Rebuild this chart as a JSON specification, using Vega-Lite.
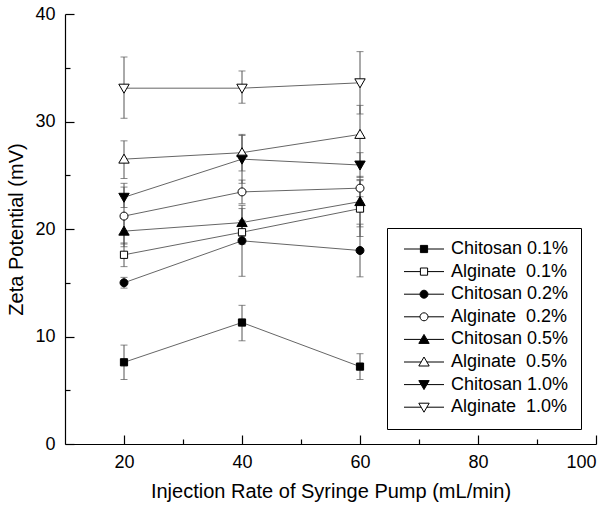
{
  "$schema": "https://vega.github.io/schema/vega-lite/v6.json",
  "width": 531,
  "height": 430,
  "autosize": {"type": "none"},
  "padding": {"left": 65, "top": 14, "right": 20, "bottom": 68},
  "background": "white",
  "config": {
    "view": {"stroke": null},
    "font": "Liberation Sans",
    "axis": {
      "domainColor": "black", "domainWidth": 1.2, "tickColor": "black", "tickWidth": 1.2,
      "labelColor": "black", "titleColor": "black", "labelFont": "Liberation Sans", "labelFontSize": 18,
      "titleFont": "Liberation Sans", "titleFontSize": 20, "titleFontWeight": "normal", "grid": false
    },
    "legend": {
      "title": null, "orient": "bottom-right", "offset": 15, "labelFont": "Liberation Sans", "labelFontSize": 18, "labelColor": "black",
      "symbolSize": 64, "labelOffset": 34, "rowPadding": 4.6, "padding": 12, "strokeColor": "black", "fillColor": "white", "labelLimit": 300,
      "symbolStrokeColor": "black", "symbolStrokeWidth": 1
    }
  },
  "data": {"values": [
    {"rate": 20, "series": "Chitosan 0.1%", "zeta": 7.6, "lo": 6.0, "hi": 9.2},
    {"rate": 40, "series": "Chitosan 0.1%", "zeta": 11.3, "lo": 9.6, "hi": 12.9},
    {"rate": 60, "series": "Chitosan 0.1%", "zeta": 7.2, "lo": 6.0, "hi": 8.4},
    {"rate": 20, "series": "Alginate\u00a0 0.1%", "zeta": 17.6, "lo": 16.5, "hi": 18.7},
    {"rate": 40, "series": "Alginate\u00a0 0.1%", "zeta": 19.7, "lo": 18.6, "hi": 20.8},
    {"rate": 60, "series": "Alginate\u00a0 0.1%", "zeta": 21.9, "lo": 19.3, "hi": 24.5},
    {"rate": 20, "series": "Chitosan 0.2%", "zeta": 15.0, "lo": 14.5, "hi": 15.5},
    {"rate": 40, "series": "Chitosan 0.2%", "zeta": 18.9, "lo": 15.6, "hi": 22.2},
    {"rate": 60, "series": "Chitosan 0.2%", "zeta": 18.0, "lo": 15.55, "hi": 20.45},
    {"rate": 20, "series": "Alginate\u00a0 0.2%", "zeta": 21.2, "lo": 18.35, "hi": 24.25},
    {"rate": 40, "series": "Alginate\u00a0 0.2%", "zeta": 23.45, "lo": 22.35, "hi": 24.55},
    {"rate": 60, "series": "Alginate\u00a0 0.2%", "zeta": 23.8, "lo": 23.0, "hi": 24.6},
    {"rate": 20, "series": "Chitosan 0.5%", "zeta": 19.8, "lo": 18.6, "hi": 21.0},
    {"rate": 40, "series": "Chitosan 0.5%", "zeta": 20.6, "lo": 19.3, "hi": 21.9},
    {"rate": 60, "series": "Chitosan 0.5%", "zeta": 22.55, "lo": 20.2, "hi": 24.9},
    {"rate": 20, "series": "Alginate\u00a0 0.5%", "zeta": 26.5, "lo": 24.7, "hi": 28.2},
    {"rate": 40, "series": "Alginate\u00a0 0.5%", "zeta": 27.1, "lo": 25.4, "hi": 28.8},
    {"rate": 60, "series": "Alginate\u00a0 0.5%", "zeta": 28.8, "lo": 26.2, "hi": 31.5},
    {"rate": 20, "series": "Chitosan 1.0%", "zeta": 22.95, "lo": 22.0, "hi": 23.9},
    {"rate": 40, "series": "Chitosan 1.0%", "zeta": 26.5, "lo": 24.25, "hi": 28.7},
    {"rate": 60, "series": "Chitosan 1.0%", "zeta": 25.95, "lo": 24.8, "hi": 27.1},
    {"rate": 20, "series": "Alginate\u00a0 1.0%", "zeta": 33.1, "lo": 30.3, "hi": 36.0},
    {"rate": 40, "series": "Alginate\u00a0 1.0%", "zeta": 33.1, "lo": 31.7, "hi": 34.7},
    {"rate": 60, "series": "Alginate\u00a0 1.0%", "zeta": 33.6, "lo": 30.7, "hi": 36.5}
  ]},
  "layer": [
    {
      "mark": {"type": "errorbar", "ticks": {"size": 7, "color": "#555555"}, "color": "#555555", "thickness": 1},
      "encoding": {
        "x": {"field": "rate", "type": "quantitative", "scale": {"domain": [10, 100]}, "axis": null},
        "y": {"field": "lo", "type": "quantitative", "scale": {"domain": [0, 40]}, "axis": null},
        "y2": {"field": "hi"}
      }
    },
    {
      "mark": {"type": "line", "color": "#666666", "strokeWidth": 1},
      "encoding": {
        "x": {"field": "rate", "type": "quantitative", "axis": null},
        "y": {"field": "zeta", "type": "quantitative", "axis": null},
        "detail": {"field": "series"}
      }
    },
    {
      "mark": {"type": "point", "filled": true, "size": 64, "stroke": "black", "strokeWidth": 1, "opacity": 1},
      "encoding": {
        "x": {"field": "rate", "type": "quantitative", "title": "Injection Rate of Syringe Pump (mL/min)",
              "axis": {"values": [20, 40, 60, 80, 100], "tickSize": -9, "labelPadding": 18, "titlePadding": 10, "orient": "bottom"}},
        "y": {"field": "zeta", "type": "quantitative", "title": "Zeta Potential (mV)",
              "axis": {"values": [0, 10, 20, 30, 40], "tickSize": -9, "labelPadding": 19, "titlePadding": 8, "orient": "left"}},
        "shape": {"field": "series", "type": "nominal", "legend": null,
          "scale": {"domain": ["Chitosan 0.1%", "Alginate\u00a0 0.1%", "Chitosan 0.2%", "Alginate\u00a0 0.2%", "Chitosan 0.5%", "Alginate\u00a0 0.5%", "Chitosan 1.0%", "Alginate\u00a0 1.0%"],
                    "range": ["M-0.9,-0.9H0.9V0.9H-0.9Z", "M-0.9,-0.9H0.9V0.9H-0.9Z", "M1,0A1,1,0,1,1,-1,0A1,1,0,1,1,1,0Z", "M1,0A1,1,0,1,1,-1,0A1,1,0,1,1,1,0Z", "M0,-1.25L1.3,1L-1.3,1Z", "M0,-1.25L1.3,1L-1.3,1Z", "M0,1.25L1.3,-1L-1.3,-1Z", "M0,1.25L1.3,-1L-1.3,-1Z"]}},
        "fill": {"field": "series", "type": "nominal", "legend": null,
          "scale": {"domain": ["Chitosan 0.1%", "Alginate\u00a0 0.1%", "Chitosan 0.2%", "Alginate\u00a0 0.2%", "Chitosan 0.5%", "Alginate\u00a0 0.5%", "Chitosan 1.0%", "Alginate\u00a0 1.0%"],
                    "range": ["black", "white", "black", "white", "black", "white", "black", "white"]}}
      }
    },
    {
      "transform": [{"filter": "false"}],
      "mark": {"type": "point", "opacity": 0},
      "encoding": {
        "x": {"field": "rate", "type": "quantitative",
              "axis": {"values": [30, 50, 70, 90], "tickSize": -5, "labels": false, "domain": false, "title": null, "orient": "bottom"}},
        "y": {"field": "zeta", "type": "quantitative",
              "axis": {"values": [5, 15, 25, 35], "tickSize": -5, "labels": false, "domain": false, "title": null, "orient": "left"}}
      }
    },
    {
      "transform": [{"filter": "false"}],
      "mark": {"type": "point", "filled": true, "size": 64, "strokeWidth": 1, "opacity": 1},
      "encoding": {
        "shape": {"field": "series", "type": "nominal",
          "scale": {"domain": ["Chitosan 0.1%", "Alginate\u00a0 0.1%", "Chitosan 0.2%", "Alginate\u00a0 0.2%", "Chitosan 0.5%", "Alginate\u00a0 0.5%", "Chitosan 1.0%", "Alginate\u00a0 1.0%"],
                    "range": ["M-1,0H3.1M4.9,0H9M3.1,-0.9H4.9V0.9H3.1Z", "M-1,0H3.1M4.9,0H9M3.1,-0.9H4.9V0.9H3.1Z", "M-1,0H3M5,0H9M5,0A1,1,0,1,1,3,0A1,1,0,1,1,5,0Z", "M-1,0H3M5,0H9M5,0A1,1,0,1,1,3,0A1,1,0,1,1,5,0Z", "M-1,0H3.28M4.72,0H9M4,-1.25L5.3,1L2.7,1Z", "M-1,0H3.28M4.72,0H9M4,-1.25L5.3,1L2.7,1Z", "M-1,0H3.28M4.72,0H9M4,1.25L5.3,-1L2.7,-1Z", "M-1,0H3.28M4.72,0H9M4,1.25L5.3,-1L2.7,-1Z"]},
          "legend": {}},
        "fill": {"field": "series", "type": "nominal",
          "scale": {"domain": ["Chitosan 0.1%", "Alginate\u00a0 0.1%", "Chitosan 0.2%", "Alginate\u00a0 0.2%", "Chitosan 0.5%", "Alginate\u00a0 0.5%", "Chitosan 1.0%", "Alginate\u00a0 1.0%"],
                    "range": ["black", "white", "black", "white", "black", "white", "black", "white"]},
          "legend": {}},
        "stroke": {"field": "series", "type": "nominal",
          "scale": {"domain": ["Chitosan 0.1%", "Alginate\u00a0 0.1%", "Chitosan 0.2%", "Alginate\u00a0 0.2%", "Chitosan 0.5%", "Alginate\u00a0 0.5%", "Chitosan 1.0%", "Alginate\u00a0 1.0%"],
                    "range": ["black", "black", "black", "black", "black", "black", "black", "black"]},
          "legend": {}}
      }
    }
  ],
  "resolve": {
    "scale": {"shape": "independent", "fill": "independent", "stroke": "independent"},
    "axis": {"x": "independent", "y": "independent"},
    "legend": {"shape": "independent", "fill": "independent", "stroke": "independent"}
  }
}
